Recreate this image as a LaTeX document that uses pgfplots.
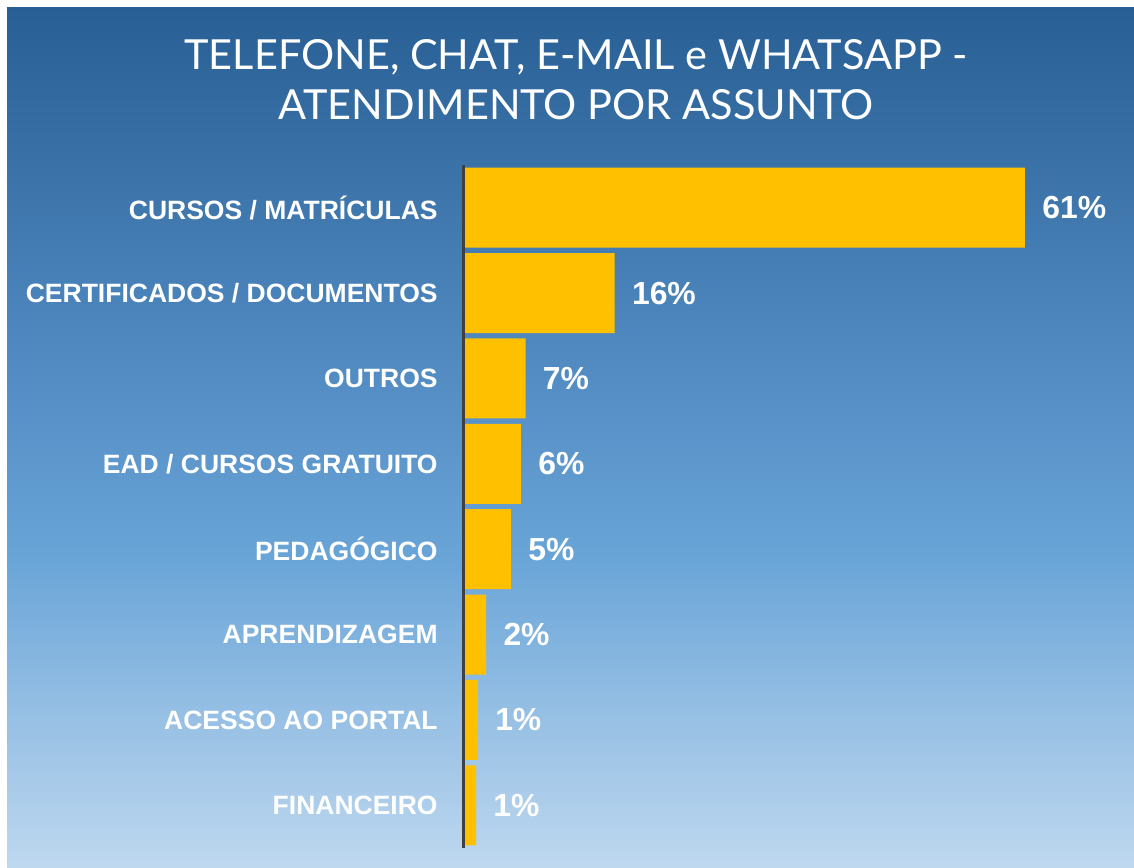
\documentclass[border=0pt]{standalone}
\usepackage{pgfplots}
\pgfplotsset{compat=1.18}
\usepackage{fontspec}
\setmainfont{Liberation Sans}
\newfontfamily\titlefont{Lato}
\definecolor{bgA}{HTML}{285F95}
\definecolor{bgB}{HTML}{5892C8}
\definecolor{bgC}{HTML}{6AA5D8}
\definecolor{bgD}{HTML}{92BDE3}
\definecolor{bgE}{HTML}{BED8EF}
\definecolor{gold}{HTML}{FFC000}
\definecolor{axisgray}{HTML}{404040}
\begin{document}
\begin{tikzpicture}
\path[use as bounding box, fill=white] (0,0) rectangle (567bp,434bp);
\shade[top color=bgA, bottom color=bgB] (3.5bp,223.7bp) rectangle (567bp,430bp);
\shade[top color=bgB, bottom color=bgC] (3.5bp,153.7bp) rectangle (567bp,224bp);
\shade[top color=bgC, bottom color=bgD] (3.5bp,83.7bp) rectangle (567bp,154bp);
\shade[top color=bgD, bottom color=bgE] (3.5bp,0bp) rectangle (567bp,84bp);
\node[anchor=base, text=white, inner sep=0pt, font=\titlefont\fontsize{20.8}{24}\selectfont] at (288bp,399bp) {TELEFONE, CHAT, E-MAIL e WHATSAPP -};
\node[anchor=base, text=white, inner sep=0pt, font=\titlefont\fontsize{20.8}{24}\selectfont] at (288bp,374bp) {ATENDIMENTO POR ASSUNTO};
\begin{axis}[
  at={(232.5bp,10bp)}, anchor=south west,
  scale only axis, width=321.3bp, height=341.5bp,
  xmin=0, xmax=70, ymin=-0.5, ymax=7.5,
  y dir=reverse,
  axis line style={draw=none},
  xtick=\empty,
  ytick={0,...,7},
  yticklabels={CURSOS / MATRÍCULAS, CERTIFICADOS / DOCUMENTOS, OUTROS, EAD / CURSOS GRATUITO, PEDAGÓGICO, APRENDIZAGEM, ACESSO AO PORTAL, FINANCEIRO},
  major tick length=0pt,
  ytick style={draw=none},
  yticklabel style={text=white, font=\fontsize{13.3}{15}\selectfont\bfseries, anchor=east, inner sep=0pt, xshift=-13.5bp},
  xbar, bar width=40bp,
  point meta=explicit symbolic,
  nodes near coords,
  nodes near coords style={text=white, font=\fontsize{16}{18}\selectfont\bfseries, anchor=west, inner sep=0pt, xshift=8.5bp},
  clip=false,
]
\addplot[fill=gold, draw=none] coordinates {
  (61,0) [61\%]
  (16.3,1) [16\%]
  (6.6,2) [7\%]
  (6.1,3) [6\%]
  (5.0,4) [5\%]
  (2.3,5) [2\%]
  (1.4,6) [1\%]
  (1.2,7) [1\%]
};
\draw[axisgray, line width=1.5bp] ([xshift=-1bp]axis cs:0,-0.5) -- ([xshift=-1bp]axis cs:0,7.5);
\end{axis}
\end{tikzpicture}
\end{document}
